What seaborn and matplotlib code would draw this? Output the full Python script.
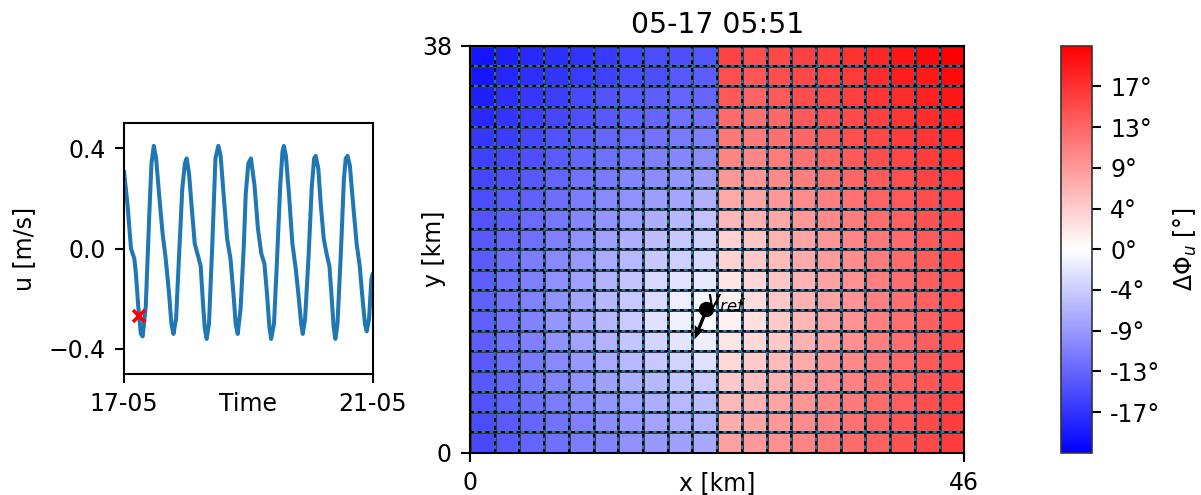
import numpy as np
import pandas as pd
import matplotlib
matplotlib.use("Agg")
import matplotlib.pyplot as plt
import matplotlib.dates as mdates
import seaborn as sns

# ---------------------------------------------------------------- data
# velocity record at the reference mooring (hours after 17 May 00:00, m/s)
hours = [0.0, 1.4, 2.7, 4.0, 4.6, 5.5, 6.5, 7.2, 8.4, 9.7, 10.6, 11.5,
         12.4, 13.6, 14.9, 16.1, 17.4, 18.3, 19.1, 20.1, 21.2, 22.5, 23.5,
         24.2, 25.1, 26.1, 27.3, 28.6, 29.6, 30.5, 31.2, 31.9, 32.8, 34.1,
         35.3, 36.4, 37.3, 38.5, 39.8, 41.1, 42.4, 43.1, 43.9, 45.0, 46.2,
         47.0, 48.0, 49.0, 50.4, 51.7, 53.0, 54.2, 55.2, 56.1, 56.8, 57.9,
         59.0, 60.3, 61.2, 61.7, 62.5, 63.8, 65.0, 66.3, 67.3, 68.4, 69.0,
         69.9, 71.2, 72.5, 73.4, 74.0, 75.0, 76.0, 77.1, 78.2, 79.3, 80.2,
         80.9, 81.6, 82.4, 83.7, 84.9, 85.6, 86.3, 87.2, 88.5, 89.8, 91.0,
         91.9, 93.0, 93.7, 94.6, 95.5, 96.0]
u_vel = [0.31, 0.17, 0.00, -0.04, -0.10, -0.23, -0.34, -0.35, -0.23, 0.12,
         0.34, 0.41, 0.36, 0.21, 0.06, -0.04, -0.18, -0.30, -0.34, -0.28,
         -0.04, 0.24, 0.34, 0.36, 0.30, 0.17, 0.02, -0.03, -0.07, -0.22,
         -0.32, -0.36, -0.30, 0.02, 0.36, 0.41, 0.37, 0.21, 0.04, -0.04,
         -0.20, -0.30, -0.34, -0.24, 0.00, 0.22, 0.34, 0.36, 0.25, 0.08,
         -0.02, -0.06, -0.18, -0.31, -0.36, -0.30, -0.06, 0.25, 0.39, 0.41,
         0.37, 0.20, 0.02, -0.08, -0.18, -0.30, -0.34, -0.28, -0.04, 0.25,
         0.36, 0.37, 0.32, 0.17, 0.04, -0.02, -0.07, -0.20, -0.31, -0.36,
         -0.30, -0.02, 0.28, 0.36, 0.37, 0.33, 0.17, 0.02, -0.07, -0.18,
         -0.30, -0.33, -0.28, -0.12, -0.10]
snapshot_hour = 5.85
snapshot_u = -0.27
start_day = "2021-05-17"
end_day = "2021-05-21"
snapshot_title = "05-17 05:51"

# phase lag of u relative to the reference point (degrees), north row first
phase_rows = [
    [-19.8, -18.8, -18.1, -17.5, -17.2, -16.6, -15.7, -15.1, -14.8, -14.3, 15.8, 15.0, 15.4, 16.0, 16.2, 17.3, 18.2, 19.6, 20.5, 21.5],
    [-19.5, -18.2, -17.6, -17.0, -16.6, -16.1, -15.2, -14.8, -14.1, -13.7, 14.9, 14.2, 14.8, 15.4, 15.8, 16.6, 17.5, 19.0, 19.3, 20.6],
    [-18.7, -17.6, -16.9, -16.2, -15.4, -14.6, -14.1, -13.6, -13.1, -12.8, 14.1, 13.0, 13.9, 14.8, 15.4, 16.1, 17.1, 17.8, 18.6, 19.6],
    [-18.0, -17.1, -16.4, -15.6, -14.8, -14.0, -13.4, -12.8, -12.0, -11.8, 12.5, 12.0, 12.7, 13.9, 14.6, 15.2, 16.1, 16.9, 17.8, 18.6],
    [-16.8, -16.4, -15.6, -14.6, -13.8, -12.9, -12.5, -11.8, -11.1, -10.6, 11.4, 11.1, 12.0, 12.8, 13.9, 14.8, 15.4, 16.3, 17.1, 18.0],
    [-16.1, -15.6, -14.8, -13.8, -12.9, -12.0, -11.4, -10.7, -10.1, -9.6, 10.3, 10.1, 11.0, 12.0, 12.8, 13.9, 14.8, 15.6, 16.4, 17.3],
    [-15.6, -14.9, -14.0, -13.0, -11.9, -11.2, -10.4, -9.6, -8.9, -8.1, 8.9, 8.9, 9.9, 10.8, 11.9, 12.8, 13.9, 14.8, 15.8, 16.6],
    [-15.0, -14.1, -13.3, -12.1, -11.0, -10.0, -9.2, -8.2, -7.5, -6.6, 7.3, 7.6, 8.6, 9.6, 10.7, 11.9, 13.0, 14.1, 15.1, 15.9],
    [-14.4, -13.5, -12.5, -11.3, -10.2, -9.0, -7.9, -6.8, -6.0, -5.1, 5.9, 6.4, 7.5, 8.6, 9.9, 11.0, 12.2, 13.4, 14.6, 15.4],
    [-14.0, -12.9, -12.0, -10.7, -9.4, -8.0, -6.7, -5.4, -4.7, -3.9, 3.9, 5.0, 6.4, 7.6, 8.9, 10.1, 11.4, 12.5, 13.9, 14.9],
    [-13.8, -12.2, -11.0, -10.0, -8.6, -7.1, -6.0, -4.7, -4.0, -3.2, 3.7, 4.6, 5.8, 7.1, 8.3, 9.6, 11.0, 12.3, 13.7, 15.4],
    [-13.5, -12.0, -10.7, -9.4, -8.0, -6.4, -5.0, -3.2, -2.5, -1.9, 2.3, 3.5, 4.9, 6.5, 7.8, 9.4, 10.8, 12.2, 13.5, 14.9],
    [-13.3, -11.8, -10.5, -9.1, -7.6, -6.0, -4.6, -2.9, -1.4, -0.8, 1.3, 3.0, 4.6, 6.4, 7.6, 9.1, 10.7, 12.0, 13.4, 14.8],
    [-13.3, -11.8, -10.5, -8.9, -7.4, -5.9, -4.4, -2.6, -1.2, -0.6, 1.1, 2.6, 4.4, 6.2, 7.6, 9.1, 10.7, 12.0, 13.4, 14.8],
    [-13.5, -12.0, -10.7, -9.1, -7.8, -6.4, -4.9, -3.6, -2.3, -1.4, 2.1, 3.3, 4.7, 6.4, 7.8, 9.4, 10.8, 12.2, 13.5, 14.9],
    [-13.8, -12.4, -11.2, -10.0, -8.6, -7.2, -5.9, -4.7, -3.7, -2.6, 3.2, 4.4, 5.8, 7.1, 8.6, 9.9, 11.1, 12.5, 13.9, 15.1],
    [-14.1, -12.8, -11.5, -10.3, -9.1, -8.0, -6.8, -5.9, -5.0, -4.4, 4.6, 5.4, 6.7, 8.0, 9.1, 10.5, 11.8, 13.0, 14.2, 15.4],
    [-14.6, -13.3, -12.2, -11.0, -9.9, -8.9, -7.8, -6.8, -6.0, -5.4, 5.9, 6.7, 7.6, 8.9, 10.1, 11.1, 12.3, 13.5, 14.8, 15.9],
    [-15.1, -13.8, -12.8, -11.8, -10.7, -9.7, -8.7, -7.8, -7.1, -6.5, 7.0, 7.6, 8.6, 9.6, 10.7, 11.9, 13.0, 14.2, 15.2, 16.4],
    [-15.4, -14.0, -13.0, -12.0, -11.0, -10.3, -9.4, -8.6, -8.0, -7.3, 8.0, 8.6, 9.4, 10.3, 11.4, 12.3, 13.4, 14.6, 15.4, 16.4],
]
domain_x_km = 46
domain_y_km = 38
phase_limit = 21.5
cbar_tick_labels = ["-17°", "-13°", "-9°", "-4°", "0°", "4°", "9°", "13°", "17°"]

# reference point (km) and its velocity direction (km on the map)
ref_x_km = 21.96
ref_y_km = 13.42
ref_dx_km = -1.12
ref_dy_km = -2.80

# ---------------------------------------------------------------- style
sns.set_style("ticks")
FS = 17
LW = 1.5
TICK = 6.5
plt.rcParams.update({
    "font.family": ["DejaVu Sans"],
    "font.size": FS,
    "axes.linewidth": LW,
    "xtick.major.size": TICK,
    "ytick.major.size": TICK,
    "xtick.major.width": LW,
    "ytick.major.width": LW,
    "xtick.major.pad": 6.5,
    "ytick.major.pad": 6.5,
    "xtick.color": "black",
    "ytick.color": "black",
    "axes.edgecolor": "black",
    "axes.labelcolor": "black",
    "text.color": "black",
})

W, H = 1201, 495
fig = plt.figure(figsize=(W / 100, H / 100), dpi=100)


def px_axes(x0, y0, x1, y1):
    return fig.add_axes([x0 / W, 1 - y1 / H, (x1 - x0) / W, (y1 - y0) / H])


ax_ts = px_axes(124, 123.3, 372.7, 374)
ax_map = px_axes(470, 45.7, 964.3, 452.7)
ax_cb = px_axes(1060.7, 45.7, 1092.3, 452.7)

# ---------------------------------------------------------------- time series
t0 = pd.Timestamp(start_day)
times = t0 + pd.to_timedelta(hours, unit="h")
ts = pd.DataFrame({"time": times, "u": u_vel})
sns.lineplot(data=ts, x="time", y="u", ax=ax_ts, color="#1f77b4", linewidth=2.9)
ax_ts.plot(t0 + pd.Timedelta(hours=snapshot_hour), snapshot_u, marker="x",
           color="red", markersize=8, markeredgewidth=2.6, linestyle="none")
ax_ts.set_xlim(pd.Timestamp(start_day), pd.Timestamp(end_day))
ax_ts.set_ylim(-0.5, 0.5)
ax_ts.set_yticks([-0.4, 0.0, 0.4])
ax_ts.set_xticks([pd.Timestamp(start_day), pd.Timestamp(end_day)])
ax_ts.xaxis.set_major_formatter(mdates.DateFormatter("%d-%m"))
ax_ts.set_ylabel("u [m/s]", labelpad=9)
ax_ts.set_xlabel("Time")
# the time label sits on the same line as the date ticks
ax_ts.xaxis.set_label_coords(0.5, -0.072)
for s in ax_ts.spines.values():
    s.set_visible(True)

# ---------------------------------------------------------------- phase map
phase = np.array(phase_rows)
nrow, ncol = phase.shape
cell_w = domain_x_km / ncol
cell_h = domain_y_km / nrow

sns.heatmap(phase, ax=ax_map, cbar_ax=ax_cb, cmap="bwr",
            vmin=-phase_limit, vmax=phase_limit,
            linewidths=1.0, linecolor="#3a3a3a",
            xticklabels=False, yticklabels=False,
            cbar_kws={"ticks": np.linspace(-0.8, 0.8, 9) * phase_limit})

# cell boundaries: solid blue with black dashes on top
for k in range(ncol + 1):
    ax_map.axvline(k, color="#1f77b4", lw=1.4, zorder=3)
    ax_map.axvline(k, color="black", lw=1.4, ls=(0, (2, 2)), zorder=3)
for k in range(nrow + 1):
    ax_map.axhline(k, color="#1f77b4", lw=1.4, zorder=3)
    ax_map.axhline(k, color="black", lw=1.4, ls=(0, (2, 2)), zorder=3)

for s in ax_map.spines.values():
    s.set_visible(True)
    s.set_linewidth(LW)
    s.set_zorder(5)

ax_map.set_xticks([0, ncol])
ax_map.set_xticklabels(["0", str(domain_x_km)], rotation=0)
ax_map.set_yticks([0, nrow])
ax_map.set_yticklabels([str(domain_y_km), "0"], rotation=0)
ax_map.tick_params(length=TICK, width=LW, pad=6.5)
ax_map.set_xlabel("x [km]")
ax_map.set_ylabel("y [km]")
# axis labels share the row/column of the end ticks
ax_map.xaxis.set_label_coords(0.5, -0.044)
ax_map.yaxis.set_label_coords(-0.049, 0.5)
ax_map.set_title(snapshot_title, fontsize=FS * 1.2, pad=9)

# reference point with its velocity arrow
rx = ref_x_km / cell_w
ry = (domain_y_km - ref_y_km) / cell_h
ax_map.quiver([rx], [ry], [ref_dx_km / cell_w], [-ref_dy_km / cell_h],
              angles="xy", scale_units="xy", scale=1, color="black",
              width=0.0068, headwidth=3, headlength=4, headaxislength=3.6,
              zorder=6)
ax_map.plot([rx], [ry], marker="o", color="black", markersize=10, zorder=7)
ax_map.text(rx, ry, r"$v_{ref}$", ha="left", va="baseline", fontsize=FS,
            zorder=8)

# ---------------------------------------------------------------- colorbar
cb = ax_map.collections[0].colorbar
cb.set_ticklabels(cbar_tick_labels)
cb.outline.set_linewidth(1.2)
cb.outline.set_edgecolor("#333333")
ax_cb.tick_params(length=TICK, width=LW, pad=6.5)
cb.set_label(r"$\Delta\Phi_u$ [°]", labelpad=8)

fig.savefig("out.png", dpi=100)
